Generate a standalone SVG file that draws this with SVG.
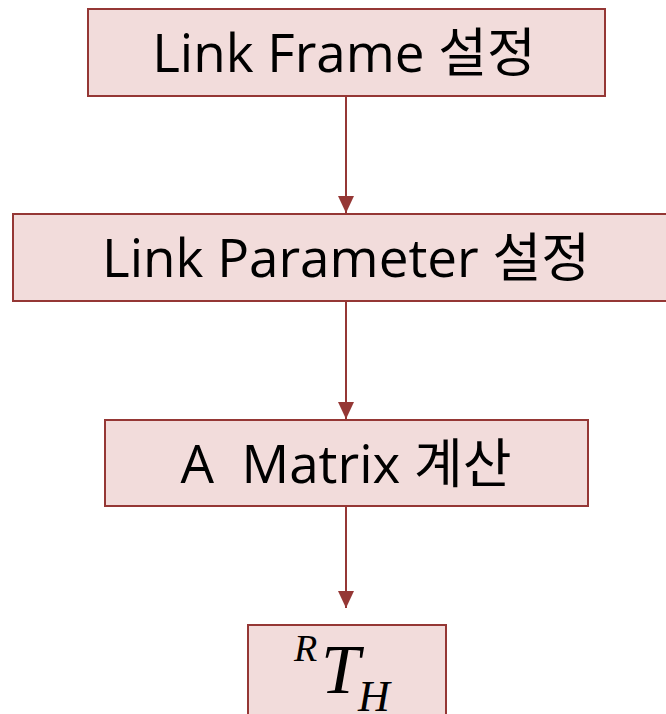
<svg xmlns="http://www.w3.org/2000/svg" width="666" height="714" viewBox="0 0 666 714">
<defs>
<style>
.box{fill:#f2dcdb;stroke:#953735;stroke-width:2}
.lbl{font-family:"Open Sans","Noto Sans CJK KR",sans-serif;font-size:53px;fill:#000;text-anchor:middle}
.math{font-family:"Liberation Serif",serif;font-style:italic;fill:#000}
.conn{stroke:#953735;stroke-width:2;fill:none;marker-end:url(#ah)}
</style>
<marker id="ah" markerWidth="17" markerHeight="16" refX="17" refY="8" orient="auto" markerUnits="userSpaceOnUse" viewBox="0 0 17 16">
<path d="M0,0 L17,8 L0,16 Z" fill="#953735"/>
</marker>
</defs>
<g id="connectors">
<line class="conn" x1="346" y1="96" x2="346" y2="213"/>
<line class="conn" x1="346" y1="301" x2="346" y2="419"/>
<line class="conn" x1="346" y1="506" x2="346" y2="608"/>
</g>
<g id="n1">
<rect class="box" x="88" y="9" width="517" height="87"/>
<text class="lbl" x="344" y="72">Link Frame 설정</text>
</g>
<g id="n2">
<rect class="box" x="13" y="214" width="660" height="87"/>
<text class="lbl" x="346" y="277">Link Parameter 설정</text>
</g>
<g id="n3">
<rect class="box" x="105" y="420" width="483" height="86"/>
<text class="lbl" x="346" y="483" xml:space="preserve">A  Matrix 계산</text>
</g>
<g id="n4">
<rect class="box" x="248" y="625" width="198" height="100"/>
<text class="math" x="294" y="661" font-size="38">R</text>
<text class="math" x="321" y="693" font-size="70">T</text>
<text class="math" x="358" y="711" font-size="44">H</text>
</g>
</svg>
